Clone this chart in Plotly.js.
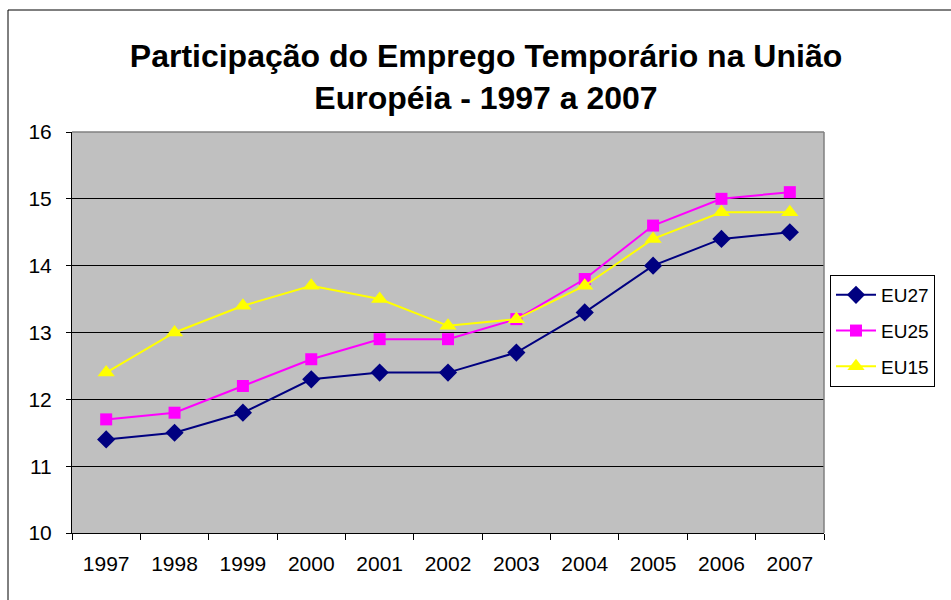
<!DOCTYPE html>
<html>
<head>
<meta charset="utf-8">
<script src="https://cdn.plot.ly/plotly-3.0.1.min.js"></script>
<style>html,body{margin:0;padding:0;background:#fff;}#chart{width:951px;height:600px;}</style>
</head>
<body>
<div id="chart"></div>
<script>
const years = ['1997','1998','1999','2000','2001','2002','2003','2004','2005','2006','2007'];
const eu27 = [11.4, 11.5, 11.8, 12.3, 12.4, 12.4, 12.7, 13.3, 14.0, 14.4, 14.5];
const eu25 = [11.7, 11.8, 12.2, 12.6, 12.9, 12.9, 13.2, 13.8, 14.6, 15.0, 15.1];
const eu15 = [12.4, 13.0, 13.4, 13.7, 13.5, 13.1, 13.2, 13.7, 14.4, 14.8, 14.8];
const seriesNames = ['EU27', 'EU25', 'EU15'];
const yTicks = [10, 11, 12, 13, 14, 15, 16];

const font = 'Liberation Sans, Arial, sans-serif';
const traces = [
  {x: years, y: eu27, name: seriesNames[0], legendgroup: 'a', mode: 'lines+markers', type: 'scatter',
   line: {color: '#000080', width: 2}, marker: {symbol: 'diamond', size: 14, color: '#000080'}},
  {x: years, y: eu25, name: seriesNames[1], legendgroup: 'b', mode: 'lines+markers', type: 'scatter',
   line: {color: '#FF00FF', width: 2}, marker: {symbol: 'square', size: 12, color: '#FF00FF'}},
  {x: years, y: eu15, name: seriesNames[2], legendgroup: 'c', mode: 'lines+markers', type: 'scatter',
   line: {color: '#FFFF00', width: 2}, marker: {symbol: 'triangle-up', size: 15, color: '#FFFF00'}}
];

const L = 72, R = 824, T = 132, B = 533, W = 951, H = 600;
const pw = R - L, ph = B - T;
const px = v => (v - L) / pw;
const py = v => 1 - (v - T) / ph;

const layout = {
  width: W, height: H,
  margin: {l: L, r: W - R, t: T, b: H - B, pad: 0},
  paper_bgcolor: '#ffffff',
  plot_bgcolor: '#C0C0C0',
  font: {family: font, color: '#000', size: 20},
  title: {
    text: '<b>Participação do Emprego Temporário na União<br>Européia - 1997 a 2007</b>',
    font: {family: font, size: 32, color: '#000'},
    xref: 'container', x: 486 / W, xanchor: 'center',
    yref: 'container', y: 1 - 67 / H, yanchor: 'top'
  },
  xaxis: {
    type: 'category',
    range: [-0.5, years.length - 0.5],
    tickson: 'boundaries',
    ticks: 'outside', ticklen: 6, tickcolor: '#000', tickwidth: 1,
    showline: true, linecolor: '#000', linewidth: 1,
    showgrid: false, zeroline: false,
    ticklabelstandoff: 12,
    tickfont: {family: font, size: 21, color: '#000'},
    fixedrange: true
  },
  yaxis: {
    range: [10, 16],
    tickvals: yTicks,
    ticktext: yTicks.map(String),
    ticks: 'outside', ticklen: 5, tickcolor: '#000', tickwidth: 1,
    showline: true, linecolor: '#000', linewidth: 1,
    showgrid: true, gridcolor: '#000', gridwidth: 1,
    zeroline: false,
    ticklabelstandoff: 10,
    tickfont: {family: font, size: 21, color: '#000'},
    fixedrange: true
  },
  showlegend: true,
  legend: {
    x: px(830), xanchor: 'left',
    y: py(275), yanchor: 'top',
    bgcolor: '#ffffff',
    bordercolor: '#000', borderwidth: 1,
    font: {family: font, size: 19, color: '#000'},
    traceorder: 'grouped',
    tracegroupgap: 8,
    itemwidth: 40
  },
  shapes: [
    {type: 'line', xref: 'paper', yref: 'paper', x0: 0, x1: 1, y0: 1, y1: 1, line: {color: '#808080', width: 1.5}},
    {type: 'line', xref: 'paper', yref: 'paper', x0: 1, x1: 1, y0: 0, y1: 1, line: {color: '#808080', width: 1.5}},
    {type: 'line', xref: 'paper', yref: 'paper', x0: px(8), x1: px(960), y0: py(10), y1: py(10), line: {color: '#000', width: 1}},
    {type: 'line', xref: 'paper', yref: 'paper', x0: px(8), x1: px(8), y0: py(10), y1: py(610), line: {color: '#000', width: 1}}
  ]
};

Plotly.newPlot('chart', traces, layout, {displayModeBar: false, staticPlot: true});
</script>
</body>
</html>
